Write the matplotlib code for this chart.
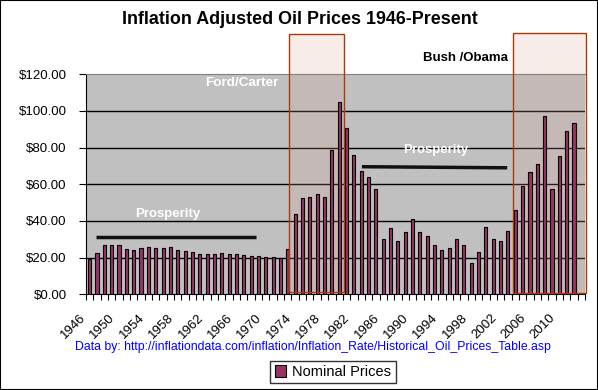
import matplotlib
matplotlib.use("Agg")
import matplotlib.pyplot as plt
from matplotlib.patches import Rectangle
from matplotlib.transforms import ScaledTranslation
import numpy as np

plt.rcParams['font.family'] = ['Liberation Sans', 'DejaVu Sans']

# data (inflation adjusted price)
years = list(range(1946, 2014))
prices = [19.1, 22.4, 26.7, 26.7, 26.7, 24.5, 24.0, 25.1, 25.6, 25.1,
          25.1, 25.6, 24.0, 23.5, 22.9, 21.8, 21.8, 21.8, 22.4, 21.8,
          21.8, 21.3, 20.7, 20.7, 20.2, 20.2, 19.6, 24.5, 43.8, 52.4,
          52.9, 54.6, 52.9, 78.6, 104.7, 90.6, 75.8, 67.1, 63.8, 57.3,
          30.0, 36.0, 29.1, 33.8, 40.9, 33.8, 31.6, 26.7, 24.0, 25.1,
          30.0, 26.7, 16.9, 22.9, 36.5, 30.0, 28.9, 34.4, 45.8, 59.1,
          66.5, 70.9, 97.1, 57.3, 75.3, 88.9, 93.3, np.nan]
yticks = [0, 20, 40, 60, 80, 100, 120]

# era boxes (x start/end in category units, y bottom/top)
eras = [(27.15, 34.65, 1.1, 141.8), (57.7, 67.6, 0.9, 142.4)]
# prosperity lines
prosp = [((0.8, 22.6), (31.4, 31.4)), ((37.1, 56.9), (69.6, 69.0))]

fig = plt.figure(figsize=(5.98, 3.90), dpi=100)
ax = fig.add_axes([86/598, 1-294.3/390, (585-86)/598, (294.3-74.3)/390])
ax.set_facecolor('#c0c0c0')

x = np.arange(len(years))
ax.bar(x, prices, width=0.42, color='#993366', edgecolor='black',
       linewidth=0.8, zorder=3, label='Nominal Prices')

ax.set_xlim(-0.5, len(years) - 0.5)
ax.set_ylim(0, 120)
ax.set_yticks(yticks)
ax.set_yticklabels([f'${v:.2f}' for v in yticks], fontsize=9.5)
for v in yticks[1:-1]:
    ax.axhline(v, color='black', linewidth=1, zorder=1)

# x ticks: boundaries as minor ticks, labels every 4 years
ax.set_xticks(np.arange(-0.5, len(years)), minor=True)
ax.set_xticks(x[::4])
ax.set_xticklabels([str(y) for y in years[::4]], rotation=45, ha='right',
                   rotation_mode='anchor', fontsize=9.5)
ax.tick_params(axis='x', which='major', length=0, pad=6)
ax.tick_params(axis='x', which='minor', length=4, width=0.8, direction='out')
ax.tick_params(axis='y', length=5, width=0.8, direction='out', pad=9)
shift = ScaledTranslation(-0.10, -0.09, fig.dpi_scale_trans)
for lab in ax.get_xticklabels():
    lab.set_transform(lab.get_transform() + shift)

ax.spines['right'].set_visible(False)
ax.spines['top'].set_color('#808080')
ax.spines['left'].set_linewidth(0.8)
ax.spines['bottom'].set_linewidth(0.8)

for x0, x1, y0, y1 in eras:
    ax.add_patch(Rectangle((x0, y0), x1 - x0, y1 - y0, facecolor='#d9a08f',
                           alpha=0.2, edgecolor='none', zorder=2,
                           clip_on=False))
    ax.add_patch(Rectangle((x0, y0), x1 - x0, y1 - y0, facecolor='none',
                           edgecolor='#a83a0c', linewidth=1, zorder=4,
                           clip_on=False))

for xs, ys in prosp:
    ax.plot(xs, ys, color='#111111', linewidth=2.5, zorder=4,
            solid_capstyle='butt')

ax.text(10.7, 43.8, 'Prosperity', color='white', fontweight='bold',
        fontsize=9.5, ha='center', va='center', zorder=5)
ax.text(47.2, 78.7, 'Prosperity', color='white', fontweight='bold',
        fontsize=9.5, ha='center', va='center', zorder=5)
ax.text(20.8, 115, 'Ford/Carter', color='white', fontweight='bold',
        fontsize=9.7, ha='center', va='center', zorder=5)
ax.text(51.2, 128.7, 'Bush /Obama', color='black', fontweight='bold',
        fontsize=9.5, ha='center', va='center', zorder=5, clip_on=False)

fig.text(300/598, 1-20/390, 'Inflation Adjusted Oil Prices 1946-Present',
         fontsize=12.9, fontweight='bold', ha='center', va='center')
fig.text(313/598, 1-347/390,
         'Data by: http://inflationdata.com/inflation/Inflation_Rate/Historical_Oil_Prices_Table.asp',
         color='#0000ff', fontsize=8.8, ha='center', va='center')

leg = fig.legend(loc='center', bbox_to_anchor=(333/598, 1-372/390),
                 fontsize=10.5, frameon=True, fancybox=False,
                 edgecolor='black', handlelength=0.8, handleheight=0.8,
                 handletextpad=0.4, borderpad=0.3)
leg.get_frame().set_linewidth(1)

fig.patches.append(Rectangle((0, 0), 1, 1, transform=fig.transFigure,
                             facecolor='none', edgecolor='black',
                             linewidth=1.5))

fig.savefig('out.png', dpi=100)
